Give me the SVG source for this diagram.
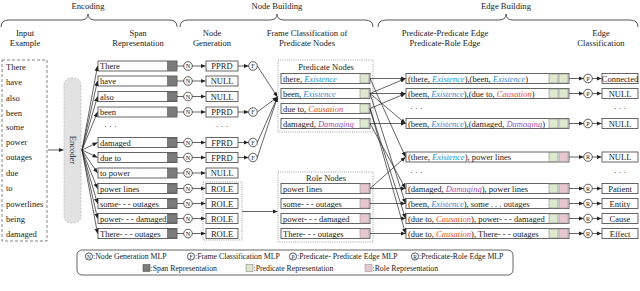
<svg xmlns="http://www.w3.org/2000/svg" width="640" height="291" viewBox="0 0 640 291">
<defs>
<marker id="ah" markerWidth="6" markerHeight="6" refX="5" refY="3" orient="auto" markerUnits="userSpaceOnUse"><path d="M0,0.9 L5,3 L0,5.1 z" fill="#222"/></marker>
<style>
text{font-family:"Liberation Serif","Times New Roman",serif;fill:#222}
.h{font-size:8.6px;text-anchor:middle}
.t{font-size:8.5px}
.c{text-anchor:middle}
.lg{font-size:7.8px}
.sy{font-size:6.2px;text-anchor:middle}
.ex{fill:#2a8fd6;font-style:italic}
.ca{fill:#e84a2e;font-style:italic}
.dm{fill:#a050b8;font-style:italic}
.br{fill:none;stroke:#555;stroke-width:1}
.box{fill:#fff;stroke:#555;stroke-width:0.9}
.sp{fill:#7b7b7b;stroke:#555;stroke-width:0.6}
.pr{fill:#dde8cf;stroke:#888;stroke-width:0.6}
.ro{fill:#e8c6cd;stroke:#999;stroke-width:0.6}
.cir{fill:#fff;stroke:#333;stroke-width:0.8}
.dot{fill:none;stroke:#888;stroke-width:0.8;stroke-dasharray:1 1.2}
.ln{fill:none;stroke:#222;stroke-width:0.7}
.la{fill:none;stroke:#222;stroke-width:0.7;marker-end:url(#ah)}
</style>
</defs>
<rect width="640" height="291" fill="#fff"/>

<!-- section headers -->
<g id="headers">
<text class="h" x="88" y="9">Encoding</text>
<path class="br" d="M1,27 Q1,20 9,20 L81,20 Q88,20 88,14 Q88,20 95,20 L170,20 Q177,20 177,27"/>
<text class="h" x="277" y="9">Node Building</text>
<path class="br" d="M180,27 Q180,20 188,20 L270,20 Q277,20 277,14 Q277,20 284,20 L365,20 Q373,20 373,27"/>
<text class="h" x="506" y="9">Edge Building</text>
<path class="br" d="M378,27 Q378,20 386,20 L499,20 Q506,20 506,14 Q506,20 513,20 L630,20 Q638,20 638,27"/>
<text class="h" x="25" y="36">Input</text><text class="h" x="25" y="46">Example</text>
<text class="h" x="138" y="36">Span</text><text class="h" x="138" y="46">Representation</text>
<text class="h" x="212" y="36">Node</text><text class="h" x="212" y="46">Generation</text>
<text class="h" x="307" y="36">Frame Classification of</text><text class="h" x="307" y="46">Predicate Nodes</text>
<text class="h" x="445" y="36">Predicate-Predicate Edge</text><text class="h" x="445" y="46">Predicate-Role Edge</text>
<text class="h" x="601" y="36">Edge</text><text class="h" x="601" y="46">Classification</text>
</g>

<!-- input example -->
<g id="input">
<rect x="2" y="60" width="45" height="181" fill="none" stroke="#666" stroke-width="0.8" stroke-dasharray="3 2"/>
<text class="t" x="6" y="70">There</text>
<text class="t" x="6" y="85">have</text>
<text class="t" x="6" y="100.5">also</text>
<text class="t" x="6" y="116">been</text>
<text class="t" x="6" y="130">some</text>
<text class="t" x="6" y="145">power</text>
<text class="t" x="6" y="160">outages</text>
<text class="t" x="6" y="176">due</text>
<text class="t" x="6" y="191">to</text>
<text class="t" x="6" y="207">powerlines</text>
<text class="t" x="6" y="222">being</text>
<text class="t" x="6" y="237">damaged</text>
</g>

<g id="encoder">
<rect x="64" y="78" width="17" height="145" rx="7" fill="#e2e2e2" stroke="#bbb" stroke-width="0.8" stroke-dasharray="2 1.5"/>
<text class="t c" transform="translate(69.5,150) rotate(90)">Encoder</text>
</g>

<!-- span representation -->
<g id="spans">
<rect class="box" x="98" y="61" width="79" height="10"/><rect class="sp" x="167.5" y="61.5" width="9" height="9"/><text class="t" x="100" y="69">There</text>
<rect class="box" x="98" y="76" width="79" height="10"/><rect class="sp" x="167.5" y="76.5" width="9" height="9"/><text class="t" x="100" y="84">have</text>
<rect class="box" x="98" y="91.5" width="79" height="10"/><rect class="sp" x="167.5" y="92" width="9" height="9"/><text class="t" x="100" y="99.5">also</text>
<rect class="box" x="98" y="107" width="79" height="10"/><rect class="sp" x="167.5" y="107.5" width="9" height="9"/><text class="t" x="100" y="115">been</text>
<text class="t" x="104" y="129">· · ·</text>
<rect class="box" x="98" y="137.5" width="79" height="10"/><rect class="sp" x="167.5" y="138" width="9" height="9"/><text class="t" x="100" y="145.5">damaged</text>
<rect class="box" x="98" y="152.5" width="79" height="10"/><rect class="sp" x="167.5" y="153" width="9" height="9"/><text class="t" x="100" y="160.5">due to</text>
<rect class="box" x="98" y="168" width="79" height="10"/><rect class="sp" x="167.5" y="168.5" width="9" height="9"/><text class="t" x="100" y="176">to power</text>
<rect class="box" x="98" y="183.5" width="79" height="10"/><rect class="sp" x="167.5" y="184" width="9" height="9"/><text class="t" x="100" y="191.5">power lines</text>
<rect class="box" x="98" y="198.5" width="79" height="10"/><rect class="sp" x="167.5" y="199" width="9" height="9"/><text class="t" x="100" y="206.5">some- - - outages</text>
<rect class="box" x="98" y="213.5" width="79" height="10"/><rect class="sp" x="167.5" y="214" width="9" height="9"/><text class="t" x="100" y="221.5">power- - - damaged</text>
<rect class="box" x="98" y="228.5" width="79" height="10"/><rect class="sp" x="167.5" y="229" width="9" height="9"/><text class="t" x="100" y="236.5">There- - - outages</text>
</g>

<!-- node generation -->
<g id="nodegen">
<g id="ncircles">
<circle class="cir" cx="188" cy="66" r="4.3"/><text class="sy" x="188" y="68.2">N</text>
<circle class="cir" cx="188" cy="81" r="4.3"/><text class="sy" x="188" y="83.2">N</text>
<circle class="cir" cx="188" cy="96.5" r="4.3"/><text class="sy" x="188" y="98.7">N</text>
<circle class="cir" cx="188" cy="112" r="4.3"/><text class="sy" x="188" y="114.2">N</text>
<circle class="cir" cx="188" cy="142.5" r="4.3"/><text class="sy" x="188" y="144.7">N</text>
<circle class="cir" cx="188" cy="157.5" r="4.3"/><text class="sy" x="188" y="159.7">N</text>
<circle class="cir" cx="188" cy="173" r="4.3"/><text class="sy" x="188" y="175.2">N</text>
<circle class="cir" cx="188" cy="188.5" r="4.3"/><text class="sy" x="188" y="190.7">N</text>
<circle class="cir" cx="188" cy="203.5" r="4.3"/><text class="sy" x="188" y="205.7">N</text>
<circle class="cir" cx="188" cy="218.5" r="4.3"/><text class="sy" x="188" y="220.7">N</text>
<circle class="cir" cx="188" cy="233.5" r="4.3"/><text class="sy" x="188" y="235.7">N</text>
</g>
<g id="labels">
<rect class="box" x="206" y="61" width="32" height="10"/><text class="t c" x="222" y="69">PPRD</text>
<rect class="box" x="206" y="76" width="32" height="10"/><text class="t c" x="222" y="84">NULL</text>
<rect class="box" x="206" y="91.5" width="32" height="10"/><text class="t c" x="222" y="99.5">NULL</text>
<rect class="box" x="206" y="107" width="32" height="10"/><text class="t c" x="222" y="115">PPRD</text>
<text class="t c" x="222" y="129">· · ·</text>
<rect class="box" x="206" y="137.5" width="32" height="10"/><text class="t c" x="222" y="145.5">FPRD</text>
<rect class="box" x="206" y="152.5" width="32" height="10"/><text class="t c" x="222" y="160.5">FPRD</text>
<rect class="box" x="206" y="168" width="32" height="10"/><text class="t c" x="222" y="176">NULL</text>
<rect class="dot" x="203" y="182" width="39" height="58"/>
<rect class="box" x="206" y="183.5" width="32" height="10"/><text class="t c" x="222" y="191.5">ROLE</text>
<rect class="box" x="206" y="198.5" width="32" height="10"/><text class="t c" x="222" y="206.5">ROLE</text>
<rect class="box" x="206" y="213.5" width="32" height="10"/><text class="t c" x="222" y="221.5">ROLE</text>
<rect class="box" x="206" y="228.5" width="32" height="10"/><text class="t c" x="222" y="236.5">ROLE</text>
</g>
<g id="fcircles">
<circle class="cir" cx="253" cy="66" r="4.3" fill="#eef0e0"/><text class="sy" x="253" y="68.2">F</text>
<circle class="cir" cx="253" cy="112" r="4.3"/><text class="sy" x="253" y="114.2">F</text>
<circle class="cir" cx="253" cy="142.5" r="4.3"/><text class="sy" x="253" y="144.7">F</text>
<circle class="cir" cx="253" cy="157.5" r="4.3"/><text class="sy" x="253" y="159.7">F</text>
</g>
</g>

<!-- predicate nodes -->
<g id="predicate-nodes">
<rect class="dot" x="278" y="60" width="95" height="72"/>
<text class="t c" x="326" y="70">Predicate Nodes</text>
<rect class="box" x="281" y="73.5" width="89" height="10"/><rect class="pr" x="360" y="74" width="9" height="9"/>
<text class="t" x="283" y="81.5">there, <tspan class="ex">Existence</tspan></text>
<rect class="box" x="281" y="88.5" width="89" height="10"/><rect class="pr" x="360" y="89" width="9" height="9"/>
<text class="t" x="283" y="96.5">been, <tspan class="ex">Existence</tspan></text>
<rect class="box" x="281" y="103.5" width="89" height="10"/><rect class="pr" x="360" y="104" width="9" height="9"/>
<text class="t" x="283" y="111.5">due to, <tspan class="ca">Causation</tspan></text>
<rect class="box" x="281" y="118.5" width="89" height="10"/><rect class="pr" x="360" y="119" width="9" height="9"/>
<text class="t" x="283" y="126.5">damaged, <tspan class="dm">Damaging</tspan></text>
</g>

<!-- role nodes -->
<g id="role-nodes">
<rect class="dot" x="278" y="172" width="95" height="70"/>
<text class="t c" x="326" y="181">Role Nodes</text>
<rect class="box" x="281" y="183.5" width="89" height="10"/><rect class="ro" x="360" y="184" width="9" height="9"/><text class="t" x="283" y="191.5">power lines</text>
<rect class="box" x="281" y="198.5" width="89" height="10"/><rect class="ro" x="360" y="199" width="9" height="9"/><text class="t" x="283" y="206.5">some- - - outages</text>
<rect class="box" x="281" y="213.5" width="89" height="10"/><rect class="ro" x="360" y="214" width="9" height="9"/><text class="t" x="283" y="221.5">power- - - damaged</text>
<rect class="box" x="281" y="228.5" width="89" height="10"/><rect class="ro" x="360" y="229" width="9" height="9"/><text class="t" x="283" y="236.5">There- - - outages</text>
</g>

<!-- edges -->
<g id="edges">
<rect class="box" x="406" y="73.5" width="163" height="10"/><rect class="pr" x="549" y="74" width="9" height="9"/><rect class="pr" x="559" y="74" width="9" height="9"/>
<text class="t" x="408" y="81.5">(there, <tspan class="ex">Existence</tspan>),(been, <tspan class="ex">Existence</tspan>)</text>
<rect class="box" x="406" y="88.5" width="163" height="10"/><rect class="pr" x="549" y="89" width="9" height="9"/><rect class="pr" x="559" y="89" width="9" height="9"/>
<text class="t" x="408" y="96.5">(been, <tspan class="ex">Existence</tspan>),(due to, <tspan class="ca">Causation</tspan>)</text>
<text class="t" x="410" y="111">· · ·</text>
<rect class="box" x="406" y="118.5" width="163" height="10"/><rect class="pr" x="549" y="119" width="9" height="9"/><rect class="pr" x="559" y="119" width="9" height="9"/>
<text class="t" x="408" y="126.5">(been, <tspan class="ex">Existence</tspan>),(damaged, <tspan class="dm">Damaging</tspan>)</text>
<rect class="box" x="406" y="152" width="163" height="10"/><rect class="pr" x="549" y="152.5" width="9" height="9"/><rect class="ro" x="559" y="152.5" width="9" height="9"/>
<text class="t" x="408" y="160">(there, <tspan class="ex">Existence</tspan>), power lines</text>
<text class="t" x="410" y="175">· · ·</text>
<rect class="box" x="406" y="183.5" width="163" height="10"/><rect class="pr" x="549" y="184" width="9" height="9"/><rect class="ro" x="559" y="184" width="9" height="9"/>
<text class="t" x="408" y="191.5">(damaged, <tspan class="dm">Damaging</tspan>), power lines</text>
<rect class="box" x="406" y="198.5" width="163" height="10"/><rect class="pr" x="549" y="199" width="9" height="9"/><rect class="ro" x="559" y="199" width="9" height="9"/>
<text class="t" x="408" y="206.5">(been, <tspan class="ex">Existence</tspan>), some . . . outages</text>
<rect class="box" x="406" y="213.5" width="163" height="10"/><rect class="pr" x="549" y="214" width="9" height="9"/><rect class="ro" x="559" y="214" width="9" height="9"/>
<text class="t" x="408" y="221.5">(due to, <tspan class="ca">Causation</tspan>), power- - - damaged</text>
<rect class="box" x="406" y="228.5" width="163" height="10"/><rect class="pr" x="549" y="229" width="9" height="9"/><rect class="ro" x="559" y="229" width="9" height="9"/>
<text class="t" x="408" y="236.5">(due to, <tspan class="ca">Causation</tspan>), There- - - outages</text>
</g>

<!-- edge classifiers and results -->
<g id="edge-classification">
<circle class="cir" cx="588" cy="78.5" r="4.3"/><text class="sy" x="588" y="80.7">P</text>
<circle class="cir" cx="588" cy="93.5" r="4.3"/><text class="sy" x="588" y="95.7">P</text>
<circle class="cir" cx="588" cy="123.5" r="4.3"/><text class="sy" x="588" y="125.7">P</text>
<circle class="cir" cx="588" cy="157" r="4.3"/><text class="sy" x="588" y="159.2">R</text>
<circle class="cir" cx="588" cy="188.5" r="4.3"/><text class="sy" x="588" y="190.7">R</text>
<circle class="cir" cx="588" cy="203.5" r="4.3"/><text class="sy" x="588" y="205.7">R</text>
<circle class="cir" cx="588" cy="218.5" r="4.3"/><text class="sy" x="588" y="220.7">R</text>
<circle class="cir" cx="588" cy="233.5" r="4.3"/><text class="sy" x="588" y="235.7">R</text>
<rect class="box" x="602" y="73.5" width="36" height="10"/><text class="t c" x="620" y="81.5">Connected</text>
<rect class="box" x="602" y="88.5" width="36" height="10"/><text class="t c" x="620" y="96.5">NULL</text>
<text class="t c" x="620" y="111">· · ·</text>
<rect class="box" x="602" y="118.5" width="36" height="10"/><text class="t c" x="620" y="126.5">NULL</text>
<rect class="box" x="602" y="152" width="36" height="10"/><text class="t c" x="620" y="160">NULL</text>
<text class="t c" x="620" y="175">· · ·</text>
<rect class="box" x="602" y="183.5" width="36" height="10"/><text class="t c" x="620" y="191.5">Patient</text>
<rect class="box" x="602" y="198.5" width="36" height="10"/><text class="t c" x="620" y="206.5">Entity</text>
<rect class="box" x="602" y="213.5" width="36" height="10"/><text class="t c" x="620" y="221.5">Cause</text>
<rect class="box" x="602" y="228.5" width="36" height="10"/><text class="t c" x="620" y="236.5">Effect</text>
</g>

<!-- connectors -->
<g id="connectors">
<line class="la" x1="48" y1="150" x2="63.5" y2="150"/>
<line class="la" x1="82" y1="150" x2="97.5" y2="66"/>
<line class="la" x1="82" y1="150" x2="97.5" y2="81"/>
<line class="la" x1="82" y1="150" x2="97.5" y2="96.5"/>
<line class="la" x1="82" y1="150" x2="97.5" y2="112"/>
<line class="la" x1="82" y1="150" x2="97.5" y2="142.5"/>
<line class="la" x1="82" y1="150" x2="97.5" y2="157.5"/>
<line class="la" x1="82" y1="150" x2="97.5" y2="173"/>
<line class="la" x1="82" y1="150" x2="97.5" y2="188.5"/>
<line class="la" x1="82" y1="150" x2="97.5" y2="203.5"/>
<line class="la" x1="82" y1="150" x2="97.5" y2="218.5"/>
<line class="la" x1="82" y1="150" x2="97.5" y2="233.5"/>
<!-- span to N -->
<path class="ln" d="M177,66 H183.7 M177,81 H183.7 M177,96.5 H183.7 M177,112 H183.7 M177,142.5 H183.7 M177,157.5 H183.7 M177,173 H183.7 M177,188.5 H183.7 M177,203.5 H183.7 M177,218.5 H183.7 M177,233.5 H183.7"/>
<!-- N to labels -->
<line class="la" x1="192.3" y1="66" x2="205.5" y2="66"/>
<line class="la" x1="192.3" y1="81" x2="205.5" y2="81"/>
<line class="la" x1="192.3" y1="96.5" x2="205.5" y2="96.5"/>
<line class="la" x1="192.3" y1="112" x2="205.5" y2="112"/>
<line class="la" x1="192.3" y1="142.5" x2="205.5" y2="142.5"/>
<line class="la" x1="192.3" y1="157.5" x2="205.5" y2="157.5"/>
<line class="la" x1="192.3" y1="173" x2="205.5" y2="173"/>
<line class="la" x1="192.3" y1="188.5" x2="205.5" y2="188.5"/>
<line class="la" x1="192.3" y1="203.5" x2="205.5" y2="203.5"/>
<line class="la" x1="192.3" y1="218.5" x2="205.5" y2="218.5"/>
<line class="la" x1="192.3" y1="233.5" x2="205.5" y2="233.5"/>
<!-- labels to F -->
<line class="la" x1="238" y1="66" x2="248.5" y2="66"/>
<line class="la" x1="238" y1="112" x2="248.5" y2="112"/>
<line class="la" x1="238" y1="142.5" x2="248.5" y2="142.5"/>
<line class="la" x1="238" y1="157.5" x2="248.5" y2="157.5"/>
<!-- F to predicate nodes -->
<line class="la" x1="257.3" y1="66" x2="277.5" y2="97"/>
<line class="la" x1="257.3" y1="112" x2="277.5" y2="97"/>
<line class="la" x1="257.3" y1="142.5" x2="277.5" y2="97"/>
<line class="la" x1="257.3" y1="157.5" x2="277.5" y2="97"/>
<!-- roles to role nodes -->
<line class="la" x1="242" y1="211.5" x2="277.5" y2="211.5"/>
<!-- node pairs to edges -->
<line class="la" x1="370" y1="78.5" x2="405.5" y2="78.5"/>
<line class="la" x1="370" y1="93.5" x2="405.5" y2="78.5"/>
<line class="la" x1="370" y1="93.5" x2="405.5" y2="93.5"/>
<line class="la" x1="370" y1="108.5" x2="405.5" y2="93.5"/>
<line class="la" x1="370" y1="93.5" x2="405.5" y2="123.5"/>
<line class="la" x1="370" y1="123.5" x2="405.5" y2="123.5"/>
<line class="la" x1="370" y1="78.5" x2="405.5" y2="157"/>
<line class="la" x1="370" y1="188.5" x2="405.5" y2="157"/>
<line class="la" x1="370" y1="123.5" x2="405.5" y2="188.5"/>
<line class="la" x1="370" y1="188.5" x2="405.5" y2="188.5"/>
<line class="la" x1="370" y1="93.5" x2="405.5" y2="203.5"/>
<line class="la" x1="370" y1="203.5" x2="405.5" y2="203.5"/>
<line class="la" x1="370" y1="108.5" x2="405.5" y2="218.5"/>
<line class="la" x1="370" y1="218.5" x2="405.5" y2="218.5"/>
<line class="la" x1="370" y1="108.5" x2="405.5" y2="233.5"/>
<line class="la" x1="370" y1="233.5" x2="405.5" y2="233.5"/>
<!-- edges to classifiers -->
<line class="la" x1="569" y1="78.5" x2="583.5" y2="78.5"/>
<line class="la" x1="569" y1="93.5" x2="583.5" y2="93.5"/>
<line class="la" x1="569" y1="123.5" x2="583.5" y2="123.5"/>
<line class="la" x1="569" y1="157" x2="583.5" y2="157"/>
<line class="la" x1="569" y1="188.5" x2="583.5" y2="188.5"/>
<line class="la" x1="569" y1="203.5" x2="583.5" y2="203.5"/>
<line class="la" x1="569" y1="218.5" x2="583.5" y2="218.5"/>
<line class="la" x1="569" y1="233.5" x2="583.5" y2="233.5"/>
<line class="la" x1="592.3" y1="78.5" x2="601.5" y2="78.5"/>
<line class="la" x1="592.3" y1="93.5" x2="601.5" y2="93.5"/>
<line class="la" x1="592.3" y1="123.5" x2="601.5" y2="123.5"/>
<line class="la" x1="592.3" y1="157" x2="601.5" y2="157"/>
<line class="la" x1="592.3" y1="188.5" x2="601.5" y2="188.5"/>
<line class="la" x1="592.3" y1="203.5" x2="601.5" y2="203.5"/>
<line class="la" x1="592.3" y1="218.5" x2="601.5" y2="218.5"/>
<line class="la" x1="592.3" y1="233.5" x2="601.5" y2="233.5"/>
</g>

<!-- legend -->
<g id="legend">
<rect x="77" y="250" width="436" height="25" rx="5" fill="#fff" stroke="#555" stroke-width="0.9"/>
<circle class="cir" cx="89" cy="256.5" r="3.6"/><text class="sy" x="89" y="258.6" style="font-size:5.4px">N</text>
<text class="lg" x="93" y="259.3">:Node Generation MLP</text>
<circle class="cir" cx="191" cy="256.5" r="3.6"/><text class="sy" x="191" y="258.6" style="font-size:5.4px">F</text>
<text class="lg" x="195" y="259.3">:Frame Classification MLP</text>
<circle class="cir" cx="293" cy="256.5" r="3.6"/><text class="sy" x="293" y="258.6" style="font-size:5.4px">P</text>
<text class="lg" x="297" y="259.3">:Predicate- Predicate Edge MLP</text>
<circle class="cir" cx="415" cy="256.5" r="3.6"/><text class="sy" x="415" y="258.6" style="font-size:5.4px">R</text>
<text class="lg" x="419" y="259.3">:Predicate-Role Edge MLP</text>
<rect class="sp" x="143" y="264.5" width="7" height="7"/>
<text class="lg" x="150.5" y="271">:Span Representation</text>
<rect class="pr" x="246" y="264.5" width="7" height="7"/>
<text class="lg" x="253.5" y="271">:Predicate Representation</text>
<rect class="ro" x="365" y="264.5" width="7" height="7"/>
<text class="lg" x="372.5" y="271">:Role Representation</text>
</g>
</svg>
